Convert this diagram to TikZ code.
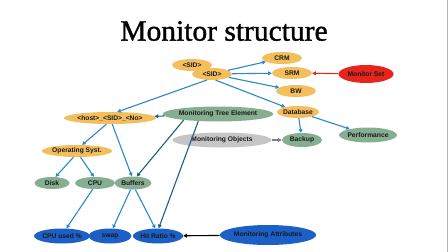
\documentclass[tikz,border=0pt]{standalone}
\usepackage{fontspec}
\setmainfont{Liberation Serif}
\setsansfont{Liberation Sans}
\newfontfamily\titlefont[FakeBold=1.2]{Liberation Serif}
\usetikzlibrary{shapes.geometric,arrows.meta}
\definecolor{monorange}{HTML}{F4BE5C}
\definecolor{mongreen}{HTML}{86AE90}
\definecolor{monblue}{HTML}{1C5FC6}
\definecolor{monred}{HTML}{E8251C}
\definecolor{mongray}{HTML}{C6C6C6}
\definecolor{monarrow}{HTML}{2B8AC8}
\definecolor{mondark}{HTML}{1F5F86}
\tikzset{
  elem/.style={ellipse,inner sep=0pt,text=black!90,
    font=\sffamily\bfseries\fontsize{6.7}{8}\selectfont},
  orng/.style={elem,fill=monorange},
  grn/.style={elem,fill=mongreen},
  blu/.style={elem,fill=monblue},
  link/.style={monarrow,line width=1.1pt,-{Triangle[length=3.6pt,width=3.8pt]}},
  darklink/.style={link,mondark}
}

\begin{document}
\begin{tikzpicture}[x=1pt,y=-1pt]
  \useasboundingbox (0,0) rectangle (448,252);
  \fill[white] (0,0) rectangle (448,252);
  \draw[black!30,line width=0.6pt] (447,0) -- (447,252);
  \node (title) at (224,31) {\titlefont\fontsize{29.5}{33}\selectfont Monitor structure};

  % upper part
  \node[orng,minimum width=40,minimum height=12] (sida) at (192,65) {<SID>};
  \node[orng,minimum width=40,minimum height=12] (sidb) at (212,74) {<SID>};
  \node[orng,minimum width=40,minimum height=12] (crm) at (282,58) {CRM};
  \node[orng,minimum width=40,minimum height=12] (srm) at (292,73) {SRM};
  \node[orng,minimum width=40,minimum height=12] (bw) at (296,91) {BW};
  \node[elem,fill=monred,minimum width=55,minimum height=18] (mset) at (366,74) {Monitor Set};
  \node[orng,minimum width=41,minimum height=12] (db) at (298,112) {Database};
  \node[grn,minimum width=54,minimum height=15] (perf) at (368,135) {Performance};
  \node[grn,minimum width=40,minimum height=14] (backup) at (302,140) {Backup};
  \node[elem,fill=mongray,minimum width=99,minimum height=15] (mobj) at (222,140) {Monitoring Objects};
  \node[grn,minimum width=100,minimum height=15] (mte) at (218,114) {Monitoring Tree Element};

  % host part
  \node[orng,minimum width=76,minimum height=12] (host) at (110,118) {<host>\_<SID>\_<No>};
  \node[orng,minimum width=60,minimum height=12] (os) at (77,151) {Operating Syst.};
  \node[grn,minimum width=35,minimum height=12] (disk) at (52,183) {Disk};
  \node[grn,minimum width=40,minimum height=12] (cpu) at (95,183) {CPU};
  \node[grn,minimum width=37,minimum height=13] (buf) at (133,183) {Buffers};
  \node[blu,minimum width=45,minimum height=15] (cpuused) at (62,236) {CPU used \%};
  \node[blu,minimum width=43,minimum height=15] (swap) at (110,236) {swap};
  \node[blu,minimum width=43,minimum height=15] (hit) at (158,236) {Hit Ratio \%};
  \node[blu,minimum width=87,minimum height=20] (mattr) at (268,235) {Monitoring Attributes};

  \draw[link] (sidb) -- (crm);
  \draw[link] (sidb) -- (srm);
  \draw[link] (sidb) -- (bw);
  \draw[link] (sidb.300) -- (db);
  \draw[link] (sidb.230) -- (host.40);
  \draw[link,monred] (mset) -- (srm);
  \draw[link] (db) -- (backup);
  \draw[link] (db) -- (perf);
  \draw[link,gray] (mobj) -- (backup);
  \draw[darklink] (mte) -- (host);
  \draw[darklink] (mte.190) -- (buf.60);
  \draw[darklink] (mte.200) -- (hit.85);
  \draw[link] (host.240) -- (os.50);
  \draw[link] (host.290) -- (buf.100);
  \draw[link] (os.240) -- (disk.60);
  \draw[link] (os.300) -- (cpu.100);
  \draw[link] (cpu.250) -- (cpuused.60);
  \draw[link] (buf.250) -- (swap.70);
  \draw[link] (buf.290) -- (hit.110);
  \draw[link,black] (mattr) -- (hit);
\end{tikzpicture}
\end{document}
